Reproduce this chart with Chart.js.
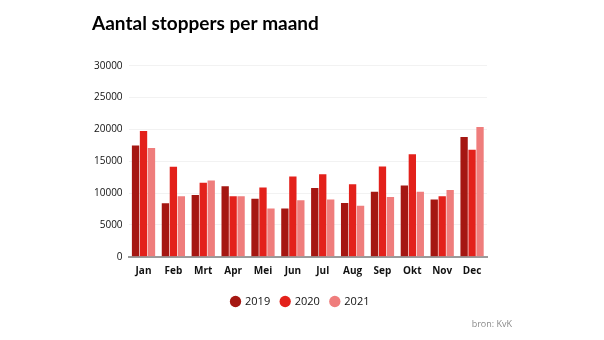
<!DOCTYPE html>
<html>
<head>
<meta charset="utf-8">
<script src="https://cdn.jsdelivr.net/npm/chart.js@4"></script>
<style>
    body { margin: 0; background: #fff; }
    #wrap { width: 604px; height: 340px; }
</style>
</head>
<body>
<div id="wrap"><canvas id="stopChart" width="604" height="340"></canvas></div>
<script>
const months = ['Jan', 'Feb', 'Mrt', 'Apr', 'Mei', 'Jun', 'Jul', 'Aug', 'Sep', 'Okt', 'Nov', 'Dec'];
const stoppers2019 = [17500, 8400, 9700, 11100, 9100, 7600, 10800, 8450, 10200, 11200, 9000, 18800];
const stoppers2020 = [19750, 14150, 11650, 9500, 10900, 12600, 12950, 11400, 14200, 16100, 9500, 16800];
const stoppers2021 = [17100, 9500, 12000, 9500, 7600, 8900, 9000, 8000, 9400, 10200, 10500, 20400];

// bron tekst rechtsonder, titel en legenda iets naar rechts
const sourcePlugin = {
    id: 'sourceText',
    afterLayout(chart) {
        chart.legend.left += 13;
        chart.legend.right += 13;
        if (chart.titleBlock) {
            chart.titleBlock.left += 4;
            chart.titleBlock.right += 4;
        }
    },
    afterDraw(chart) {
        const ctx = chart.ctx;
        ctx.save();
        ctx.font = '9px "Open Sans"';
        ctx.fillStyle = '#8a8a8a';
        ctx.textAlign = 'right';
        ctx.textBaseline = 'middle';
        ctx.fillText('bron: KvK', 512, 324);
        ctx.restore();
    }
};

const ctx = document.getElementById('stopChart').getContext('2d');
const stopChart = new Chart(ctx, {
    type: 'bar',
    data: {
        labels: months,
        datasets: [
            { label: '2019', data: stoppers2019, backgroundColor: '#a51712' },
            { label: '2020', data: stoppers2020, backgroundColor: '#e3211b' },
            { label: '2021', data: stoppers2021, backgroundColor: '#ef7d7c' }
        ]
    },
    options: {
        responsive: false,
        animation: false,
        categoryPercentage: 0.8,
        barPercentage: 0.92,
        layout: {
            padding: { left: 88, right: 117, top: 10, bottom: 23 }
        },
        plugins: {
            title: {
                display: true,
                text: 'Aantal stoppers per maand',
                align: 'start',
                color: '#000',
                font: { family: 'Lato', size: 19, weight: 'bold' },
                padding: { top: 2, bottom: 31 }
            },
            legend: {
                position: 'bottom',
                title: {
                    display: true,
                    text: ' ',
                    font: { size: 1 },
                    padding: { top: 0, bottom: 7 }
                },
                labels: {
                    usePointStyle: true,
                    pointStyle: 'circle',
                    boxWidth: 8,
                    boxHeight: 8,
                    padding: 11,
                    color: '#111',
                    font: { family: 'Open Sans', size: 11 }
                }
            },
            tooltip: { enabled: false }
        },
        scales: {
            x: {
                grid: { display: false },
                border: { color: '#9a9a9a', width: 2 },
                ticks: {
                    padding: 0,
                    color: '#111',
                    font: { family: 'Open Sans', size: 10, weight: 'bold' }
                }
            },
            y: {
                min: 0,
                max: 30000,
                border: { display: false },
                grid: { color: '#f2f2f2', drawTicks: false },
                ticks: {
                    stepSize: 5000,
                    padding: 6,
                    color: '#111',
                    font: { family: 'Open Sans', size: 10 },
                    callback: (value) => String(value)
                }
            }
        }
    },
    plugins: [sourcePlugin]
});
</script>
</body>
</html>
